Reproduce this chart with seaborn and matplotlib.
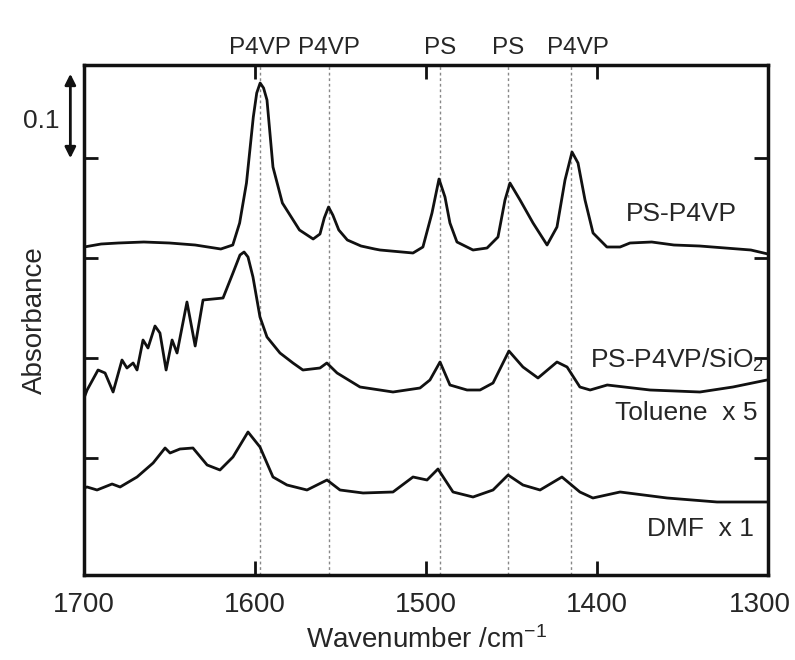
import numpy as np
import pandas as pd
import matplotlib
matplotlib.use("Agg")
import matplotlib.pyplot as plt
from matplotlib.transforms import ScaledTranslation
import seaborn as sns

# ---- data ----
ps_p4vp_wn = [1700, 1690, 1680, 1665, 1650, 1635, 1620, 1613, 1609, 1605, 1601, 1599, 1597, 1595,
              1593, 1589.5, 1584, 1574, 1566, 1562, 1559.5, 1557, 1554.5, 1551, 1546, 1538, 1530,
              1526.9, 1507.6, 1501.8, 1496.5, 1492.4, 1488.9, 1486, 1481.9, 1472.5, 1464.3, 1457.9,
              1453.8, 1450.9, 1445, 1437.4, 1429.2, 1423.4, 1418.7, 1414.6, 1411.1, 1407, 1402.3,
              1394.2, 1386.5, 1380.7, 1368, 1355, 1340, 1325, 1310, 1300]
ps_p4vp_abs = [0.211, 0.214, 0.215, 0.216, 0.215, 0.213, 0.209, 0.213, 0.235, 0.275, 0.341, 0.365,
               0.375, 0.370, 0.358, 0.291, 0.255, 0.228, 0.219, 0.224, 0.240, 0.251, 0.243, 0.228,
               0.218, 0.212, 0.209, 0.208, 0.205, 0.211, 0.245, 0.279, 0.261, 0.235, 0.216, 0.208,
               0.210, 0.221, 0.258, 0.275, 0.258, 0.235, 0.213, 0.231, 0.278, 0.306, 0.295, 0.258,
               0.225, 0.211, 0.211, 0.215, 0.216, 0.213, 0.212, 0.210, 0.208, 0.204]

toluene_wn = [1700, 1698.2, 1691.8, 1687.7, 1683, 1677.8, 1674.9, 1671.3, 1669, 1665.5, 1662.6,
              1658.5, 1655.6, 1652, 1648.5, 1645.6, 1639.8, 1635, 1630.4, 1624.6, 1618.7, 1612.9,
              1608.8, 1606.4, 1604.1, 1601.2, 1597.1, 1593, 1585.4, 1577.8, 1572, 1562, 1558,
              1552, 1538.6, 1527, 1519.3, 1503.5, 1497.7, 1491.8, 1486, 1476, 1468.4, 1460.8,
              1451.5, 1443.3, 1434.5, 1423.4, 1417.5, 1410, 1404, 1394, 1369, 1339.8, 1320.5, 1300.6]
toluene_abs = [0.060, 0.068, 0.088, 0.085, 0.066, 0.098, 0.090, 0.095, 0.088, 0.118, 0.110, 0.132,
               0.125, 0.088, 0.118, 0.105, 0.156, 0.112, 0.158, 0.159, 0.160, 0.185, 0.203, 0.206,
               0.201, 0.181, 0.141, 0.121, 0.105, 0.095, 0.088, 0.090, 0.095, 0.085, 0.071, 0.068,
               0.066, 0.070, 0.078, 0.096, 0.073, 0.068, 0.068, 0.075, 0.107, 0.091, 0.080, 0.096,
               0.091, 0.071, 0.068, 0.073, 0.068, 0.066, 0.071, 0.078]

dmf_wn = [1700, 1698.2, 1692.4, 1683.6, 1678.9, 1669, 1659.6, 1652.6, 1649.7, 1643.9, 1636.3, 1628,
          1620.5, 1612.9, 1604.1, 1597.1, 1589.5, 1581.3, 1569.6, 1557.9, 1550.3, 1536.8, 1519.3,
          1507.6, 1499.4, 1493, 1484.2, 1472.5, 1460.8, 1452, 1443.3, 1433.3, 1420.5, 1410,
          1402.4, 1386.5, 1359, 1329.8, 1300.6]
dmf_abs = [-0.030, -0.029, -0.032, -0.026, -0.029, -0.019, -0.005, 0.010, 0.005, 0.009, 0.010,
           -0.007, -0.012, 0.001, 0.026, 0.011, -0.019, -0.027, -0.032, -0.022, -0.032, -0.035,
           -0.034, -0.019, -0.022, -0.011, -0.034, -0.039, -0.032, -0.017, -0.027, -0.032, -0.019,
           -0.034, -0.040, -0.034, -0.040, -0.044, -0.044]

band_positions = [1597, 1557, 1492, 1452, 1415]
band_labels = ["P4VP", "P4VP", "PS", "PS", "P4VP"]
x_ticks = [1700, 1600, 1500, 1400, 1300]
y_ticks = [0.0, 0.1, 0.2, 0.3]

sns.set_theme(style="white")
plt.rcParams['font.family'] = ['Liberation Sans', 'DejaVu Sans']
plt.rcParams['mathtext.fontset'] = 'custom'
plt.rcParams['mathtext.rm'] = 'Liberation Sans'
plt.rcParams['mathtext.it'] = 'Liberation Sans'

big = 20
small = 19
top_size = 17.5

frames = []
for name, wn, ab in [("PS-P4VP", ps_p4vp_wn, ps_p4vp_abs),
                     ("Toluene", toluene_wn, toluene_abs),
                     ("DMF", dmf_wn, dmf_abs)]:
    frames.append(pd.DataFrame({"wn": wn, "abs": ab, "sample": name}))
df = pd.concat(frames, ignore_index=True)

fig = plt.figure(figsize=(7.95, 6.6), dpi=100)
ax = fig.add_axes([0.1057, 0.1288, 0.8603, 0.7727])

for wn in band_positions:
    ax.axvline(wn, color="#888888", lw=1.0, ls=(0, (2, 2)), zorder=1)

sns.lineplot(data=df, x="wn", y="abs", units="sample", estimator=None,
             color="#111111", lw=2.0, sort=False, ax=ax, legend=False, zorder=3)

ax.set_xlim(1700, 1300)
ax.set_ylim(-0.117, 0.393)
ax.set_xticks(x_ticks)
ax.set_xticklabels([str(t) for t in x_ticks], fontsize=big)
ax.set_yticks(y_ticks)
ax.set_yticklabels([])
ax.tick_params(axis="both", direction="in", length=10, width=2, color="#111111",
               top=True, right=True, bottom=True, left=True, pad=12)
for s in ax.spines.values():
    s.set_linewidth(2.5)
    s.set_color("#111111")
    s.set_visible(True)

# shift the edge tick label slightly inwards as in the reference
last = ax.get_xticklabels()[-1]
last.set_transform(last.get_transform() + ScaledTranslation(-8 / 100, 0, fig.dpi_scale_trans))

ax.set_xlabel("Wavenumber /cm$^{-1}$", fontsize=big, labelpad=6)
ax.set_ylabel("Absorbance", fontsize=big, labelpad=14)

for wn, lab in zip(band_positions, band_labels):
    ax.text(wn - (4 if wn == 1415 else 0), 1.012, lab, transform=ax.get_xaxis_transform(),
            ha="center", va="bottom", fontsize=top_size)

ax.text(1318, 0.232, "PS-P4VP", ha="right", va="bottom", fontsize=small)
ax.text(1302, 0.084, "PS-P4VP/SiO$_2$", ha="right", va="bottom", fontsize=small)
ax.text(1306, 0.033, "Toluene  x 5", ha="right", va="bottom", fontsize=small)
ax.text(1308, -0.083, "DMF  x 1", ha="right", va="bottom", fontsize=small)

# scale bar
ax.annotate("", xy=(1708, 0.297), xytext=(1708, 0.387), xycoords=("data", "data"),
            arrowprops=dict(arrowstyle="<|-|>", lw=2, color="#111111", mutation_scale=16),
            annotation_clip=False)
ax.text(1725, 0.337, "0.1", ha="center", va="center", fontsize=small, clip_on=False)

fig.savefig("out.png", dpi=100)
